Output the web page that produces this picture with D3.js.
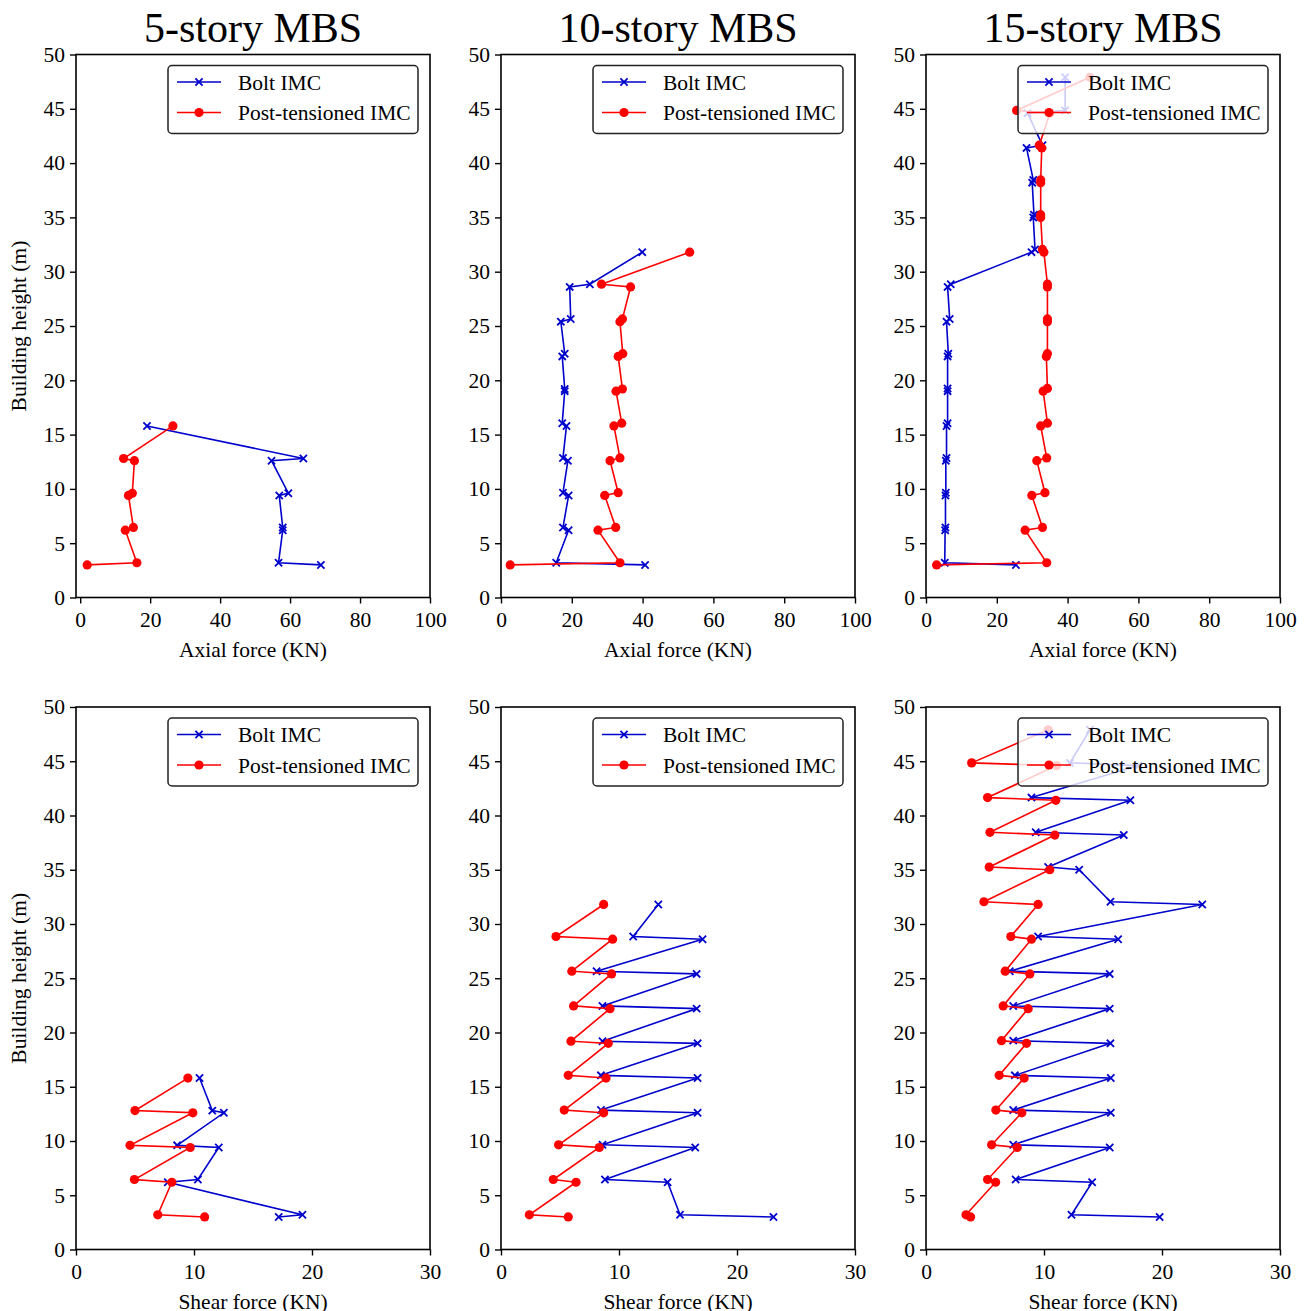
<!DOCTYPE html>
<html><head><meta charset="utf-8">
<script src="https://cdn.jsdelivr.net/npm/d3@7"></script>
<style>body{margin:0;background:#fff}svg{display:block}</style>
</head><body>
<script>
// ---------- DATA ----------
const titles = ["5-story MBS", "10-story MBS", "15-story MBS"];
const seriesNames = ["Bolt IMC", "Post-tensioned IMC"];
const yTicks = [0,5,10,15,20,25,30,35,40,45,50];
const axialTicks = [0,20,40,60,80,100];
const shearTicks = [0,10,20,30];

const h5  = [15.8,12.8,12.6,9.6,9.4,6.45,6.2,3.2,3.0];
const h10 = [31.8,28.85,28.6,25.65,25.4,22.45,22.2,19.2,19.0,16.05,15.8,12.85,12.6,9.65,9.4,6.45,6.2,3.2,3.0];
const h15 = [47.9,44.85,44.6,41.65,41.4,38.45,38.2,35.25,35.0,32.05,31.8,28.85,28.6,25.65,25.4,22.45,22.2,19.25,19.0,16.05,15.8,12.85,12.6,9.65,9.4,6.45,6.2,3.2,3.0];

const axialBolt5 = [19.1,63.8,54.7,59.5,56.9,57.9,57.9,56.7,68.8];
const axialPT5   = [26.5,12.4,15.5,14.9,13.8,15.2,12.9,16.2,2.0];
const axialBolt10 = [39.9,25.1,19.4,19.7,16.9,18.0,17.3,18.0,18.0,17.3,18.5,17.5,18.9,17.5,19.1,17.5,19.1,15.6,40.7];
const axialPT10   = [53.3,28.4,36.6,34.3,33.6,34.4,33.1,34.3,32.5,34.1,31.9,33.6,30.8,33.1,29.3,32.4,27.4,33.6,2.6];
const axialBolt15 = [39.3,39.3,28.7,32.9,28.4,30.3,30.0,30.5,30.3,30.8,29.8,7.0,6.1,6.7,5.8,6.3,6.1,6.1,6.1,6.1,5.8,5.8,5.6,5.6,5.5,5.5,5.4,5.3,25.4];
const axialPT15   = [46.3,25.6,35.0,32.0,32.7,32.4,32.4,32.4,32.4,32.9,33.3,34.3,34.3,34.3,34.3,34.3,34.0,34.3,33.1,34.3,32.4,34.1,31.3,33.6,29.9,32.9,28.0,34.1,3.0];

const shearBolt5 = [10.47,11.55,12.53,8.57,12.1,10.33,7.78,19.19,17.18];
const shearPT5   = [9.48,5.0,9.9,4.58,9.68,4.95,8.12,6.93,10.9];
const shearBolt10 = [13.33,11.2,17.08,8.1,16.58,8.6,16.58,8.6,16.66,8.47,16.66,8.47,16.66,8.6,16.46,8.81,14.12,15.17,23.09];
const shearPT10   = [8.7,4.66,9.46,6.0,9.37,6.15,9.24,5.93,9.09,5.7,8.9,5.36,8.7,4.88,8.33,4.43,6.36,2.4,5.7];
const shearBolt15 = [13.9,12.2,18.0,8.94,17.32,9.3,16.76,10.35,12.98,15.63,23.41,9.5,16.28,7.1,15.57,7.39,15.57,7.39,15.63,7.53,15.66,7.39,15.66,7.39,15.57,7.6,14.08,12.33,19.8];
const shearPT15   = [10.36,3.87,11.07,5.22,11.0,5.42,10.92,5.36,10.49,4.91,9.5,7.19,8.94,6.71,8.8,6.54,8.66,6.4,8.52,6.2,8.32,5.92,8.12,5.56,7.73,5.22,5.9,3.39,3.78];

// ---------- LAYOUT ----------
const W = 1307, H = 1311;
const colX = [[76,430],[501,855],[926,1280]];
const rowY = [[54.5,597.5],[707,1249.5]];
const BLUE = "#0000cc", RED = "#ff0000";
const FONT = "'Liberation Serif','Times New Roman',serif";
const FS = 21.5;

const heights = [h5,h10,h15];
const panels = [
  {row:0,col:0,xDom:[-1.2,100],ticks:axialTicks,xlabel:"Axial force (KN)",bolt:axialBolt5,pt:axialPT5},
  {row:0,col:1,xDom:[0,100],ticks:axialTicks,xlabel:"Axial force (KN)",bolt:axialBolt10,pt:axialPT10},
  {row:0,col:2,xDom:[0,100],ticks:axialTicks,xlabel:"Axial force (KN)",bolt:axialBolt15,pt:axialPT15},
  {row:1,col:0,xDom:[0,30],ticks:shearTicks,xlabel:"Shear force (KN)",bolt:shearBolt5,pt:shearPT5},
  {row:1,col:1,xDom:[0,30],ticks:shearTicks,xlabel:"Shear force (KN)",bolt:shearBolt10,pt:shearPT10},
  {row:1,col:2,xDom:[0,30],ticks:shearTicks,xlabel:"Shear force (KN)",bolt:shearBolt15,pt:shearPT15},
];

const svg = d3.select("body").append("svg").attr("width",W).attr("height",H)
  .style("font-family",FONT);

// titles
titles.forEach((t,i)=>{
  svg.append("text").attr("x",(colX[i][0]+colX[i][1])/2).attr("y",42)
    .attr("text-anchor","middle").attr("font-size",42).attr("fill","#000").text(t);
});

function drawMarker(g, type, x, y){
  if(type==="x"){
    const s=3.6;
    g.append("path").attr("d",`M${x-s},${y-s}L${x+s},${y+s}M${x-s},${y+s}L${x+s},${y-s}`)
      .attr("stroke",BLUE).attr("stroke-width",1.8).attr("fill","none");
  } else {
    g.append("circle").attr("cx",x).attr("cy",y).attr("r",4.6).attr("fill",RED);
  }
}

panels.forEach(p=>{
  const [x0,x1] = colX[p.col], [y0,y1] = rowY[p.row];
  const hs = heights[p.col];
  const x = d3.scaleLinear().domain(p.xDom).range([x0,x1]);
  const y = d3.scaleLinear().domain([0,50]).range([y1,y0]);
  const g = svg.append("g");

  // axes
  const xa = g.append("g").attr("transform",`translate(0,${y1})`)
    .call(d3.axisBottom(x).tickValues(p.ticks).tickSize(6).tickPadding(4).tickFormat(d3.format("d")));
  const ya = g.append("g").attr("transform",`translate(${x0},0)`)
    .call(d3.axisLeft(y).tickValues(yTicks).tickSize(6).tickPadding(5).tickFormat(d3.format("d")));
  [xa,ya].forEach(a=>{
    a.select(".domain").remove();
    a.selectAll(".tick line").attr("stroke","#000").attr("stroke-width",1.4);
    a.selectAll(".tick text").attr("font-size",FS).attr("font-family",FONT).attr("fill","#000");
  });
  xa.selectAll(".tick text").attr("dy","0.9em");
  g.append("rect").attr("x",x0).attr("y",y0).attr("width",x1-x0).attr("height",y1-y0)
    .attr("fill","none").attr("stroke","#000").attr("stroke-width",1.6);

  // x label
  g.append("text").attr("x",(x0+x1)/2).attr("y",y1+59).attr("text-anchor","middle")
    .attr("font-size",FS).attr("fill","#000").text(p.xlabel);
  if(p.col===0){
    g.append("text").attr("transform",`translate(26,${(y0+y1)/2}) rotate(-90)`)
      .attr("text-anchor","middle").attr("font-size",FS).attr("fill","#000").text("Building height (m)");
  }

  // data
  const line = d3.line().x(d=>x(d[0])).y(d=>y(d[1]));
  const bolt = p.bolt.map((v,i)=>[v,hs[i]]);
  const pt = p.pt.map((v,i)=>[v,hs[i]]);
  g.append("path").datum(bolt).attr("d",line).attr("fill","none").attr("stroke",BLUE).attr("stroke-width",1.6);
  bolt.forEach(d=>drawMarker(g,"x",x(d[0]),y(d[1])));
  g.append("path").datum(pt).attr("d",line).attr("fill","none").attr("stroke",RED).attr("stroke-width",1.6);
  pt.forEach(d=>drawMarker(g,"o",x(d[0]),y(d[1])));

  // legend
  const lx = x1-262, ly = y0+11;
  const lg = g.append("g");
  lg.append("rect").attr("x",lx).attr("y",ly).attr("width",250).attr("height",68).attr("rx",4)
    .attr("fill","#fff").attr("fill-opacity",0.8).attr("stroke","#222").attr("stroke-width",1.5);
  seriesNames.forEach((n,i)=>{
    const cy = ly+16.5+i*30.5;
    const c = i===0?BLUE:RED;
    lg.append("line").attr("x1",lx+9).attr("x2",lx+53).attr("y1",cy).attr("y2",cy)
      .attr("stroke",c).attr("stroke-width",1.6);
    drawMarker(lg, i===0?"x":"o", lx+31, cy);
    lg.append("text").attr("x",lx+70).attr("y",cy).attr("dy","0.35em")
      .attr("font-size",FS).attr("fill","#000").text(n);
  });
});
</script>
</body></html>
